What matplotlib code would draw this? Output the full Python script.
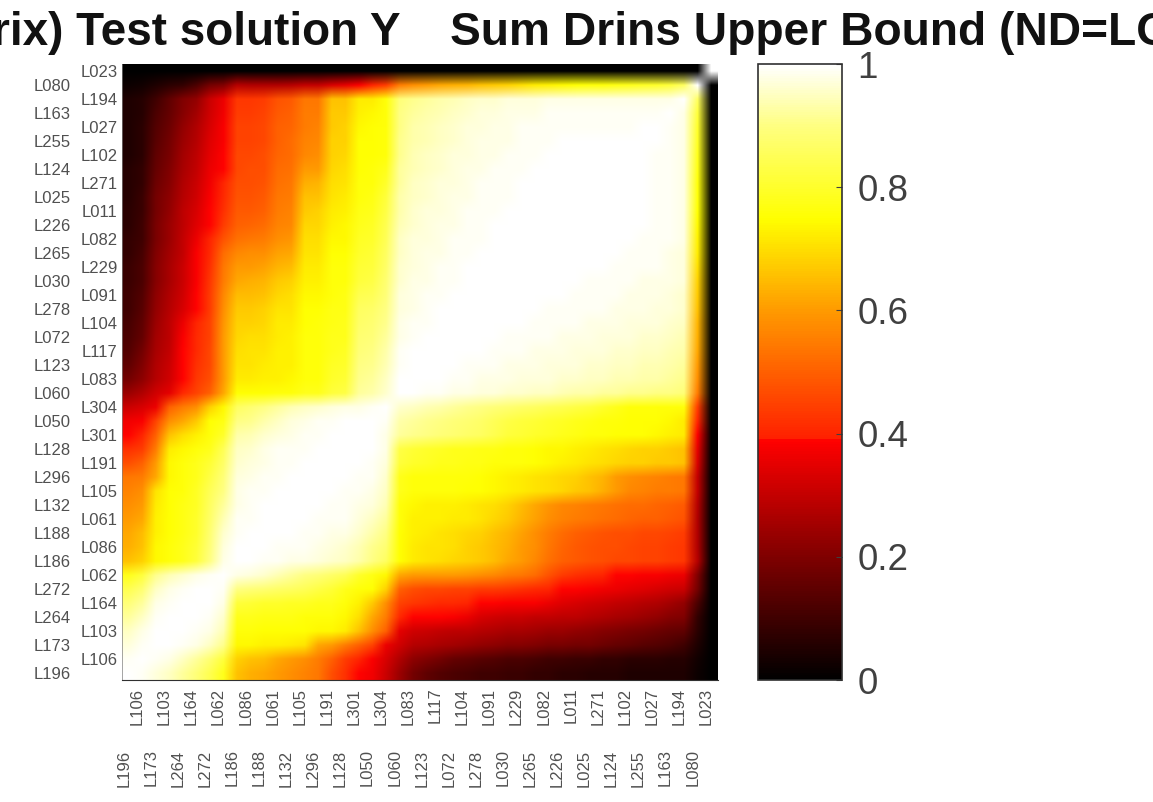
# -*- coding: utf-8 -*-
import numpy as np
import matplotlib
matplotlib.use('Agg')
import matplotlib.pyplot as plt
from matplotlib.colors import LinearSegmentedColormap
from matplotlib.transforms import ScaledTranslation

plt.rcParams['font.family'] = ['Liberation Sans', 'DejaVu Sans']

# order runs from the bottom row / left column upwards
names = ['L196', 'L106', 'L173', 'L103', 'L264', 'L164', 'L272', 'L062', 'L186', 'L086', 'L188',
         'L061', 'L132', 'L105', 'L296', 'L191', 'L128', 'L301', 'L050', 'L304', 'L060', 'L083',
         'L123', 'L117', 'L072', 'L104', 'L278', 'L091', 'L030', 'L229', 'L265', 'L082', 'L226',
         'L011', 'L025', 'L271', 'L124', 'L102', 'L255', 'L027', 'L163', 'L194', 'L080', 'L023']

# upper triangle, each row starts at the diagonal and stops at column L194
upper = [
    [1, .99, .97, .95, .92, .89, .84, .78, .66, .63, .62, .6, .58, .56, .54, .47, .42, .39, .37, .31,
     .24, .18, .15, .13, .12, .11, .10, .10, .09, .09, .08, .08, .07, .07, .06, .06, .06, .05, .05, .05, .05, .05],
    [1, .99, .98, .95, .92, .88, .82, .68, .66, .65, .62, .6, .58, .55, .5, .44, .4, .38, .33,
     .27, .22, .2, .18, .16, .15, .14, .13, .12, .12, .11, .1, .1, .09, .09, .08, .08, .07, .07, .07, .06, .06],
    [1, 1, .99, .98, .95, .91, .74, .74, .73, .73, .72, .71, .62, .6, .55, .5, .45, .36,
     .32, .28, .27, .26, .25, .24, .23, .22, .21, .21, .2, .19, .19, .18, .18, .17, .16, .15, .14, .13, .12, .1],
    [1, 1, .99, .98, .94, .76, .76, .75, .75, .75, .75, .74, .74, .72, .66, .58, .5,
     .35, .32, .31, .3, .29, .29, .28, .27, .26, .26, .25, .24, .24, .23, .22, .21, .2, .19, .18, .17, .16, .15],
    [1, 1, .99, .96, .78, .78, .77, .77, .77, .76, .76, .76, .74, .7, .62, .55,
     .41, .39, .39, .39, .38, .36, .33, .32, .31, .31, .3, .3, .29, .29, .28, .27, .26, .25, .24, .23, .21, .2],
    [1, 1, .98, .82, .81, .8, .8, .79, .79, .78, .78, .76, .73, .67, .58,
     .45, .43, .42, .41, .41, .4, .39, .39, .38, .38, .38, .36, .34, .33, .32, .31, .3, .29, .28, .27, .25, .23],
    [1, .99, .9, .89, .88, .87, .86, .85, .83, .81, .78, .76, .75, .68,
     .5, .47, .46, .46, .45, .45, .44, .44, .43, .42, .41, .4, .39, .39, .38, .37, .36, .35, .34, .33, .32, .31],
    [1, .98, .97, .96, .94, .92, .9, .89, .87, .85, .8, .77, .74,
     .62, .6, .6, .6, .6, .59, .58, .57, .55, .54, .52, .48, .44, .42, .41, .4, .39, .39, .38, .38, .37, .36],
    [1, 1, .99, .99, .98, .98, .97, .96, .95, .93, .9, .86,
     .75, .72, .71, .7, .69, .68, .67, .65, .62, .6, .57, .53, .5, .49, .48, .47, .46, .46, .45, .45, .44, .43],
    [1, 1, .99, .99, .99, .98, .97, .96, .94, .91, .88,
     .75, .72, .71, .71, .7, .68, .67, .65, .63, .6, .58, .54, .51, .49, .48, .47, .47, .46, .45, .45, .44, .43],
    [1, 1, 1, .99, .99, .98, .98, .96, .93, .9,
     .75, .73, .72, .71, .7, .69, .68, .66, .64, .61, .58, .55, .52, .5, .49, .48, .47, .47, .46, .46, .45, .44],
    [1, 1, 1, .99, .99, .99, .97, .95, .92,
     .76, .73, .73, .73, .72, .72, .71, .69, .67, .64, .61, .58, .56, .55, .54, .53, .52, .51, .5, .5, .49, .48],
    [1, 1, 1, .99, .99, .98, .97, .94,
     .76, .74, .73, .73, .73, .72, .71, .7, .68, .65, .62, .59, .57, .56, .55, .54, .53, .52, .52, .51, .5, .49],
    [1, 1, 1, .99, .99, .98, .95,
     .78, .76, .76, .76, .76, .75, .75, .74, .73, .72, .71, .7, .69, .67, .66, .63, .6, .57, .56, .55, .55, .54],
    [1, 1, 1, .99, .99, .96,
     .78, .76, .76, .76, .76, .76, .75, .74, .73, .72, .71, .7, .69, .68, .66, .64, .6, .58, .57, .56, .55, .54],
    [1, 1, 1, .99, .97,
     .82, .8, .79, .78, .78, .77, .77, .76, .76, .76, .75, .74, .73, .72, .71, .7, .69, .68, .68, .67, .67, .66],
    [1, 1, 1, .98,
     .83, .81, .8, .79, .78, .78, .77, .77, .76, .76, .75, .74, .74, .73, .72, .71, .7, .69, .68, .68, .67, .66],
    [1, 1, .98,
     .92, .91, .9, .89, .88, .87, .86, .84, .82, .81, .8, .79, .78, .77, .76, .76, .75, .75, .75, .74, .73, .72],
    [1, .99,
     .93, .92, .91, .9, .89, .88, .87, .85, .83, .82, .81, .8, .79, .78, .77, .76, .76, .75, .75, .75, .74, .72],
    [1,
     .96, .95, .94, .93, .92, .91, .9, .89, .88, .87, .86, .85, .84, .83, .82, .8, .78, .76, .76, .76, .76, .76],
    [1, 1, .99, .99, .98, .98, .97, .97, .96, .96, .95, .95, .94, .93, .93, .92, .92, .91, .91, .9, .9, .89],
    [1, 1, 1, .99, .99, .98, .98, .98, .97, .97, .97, .96, .96, .95, .95, .94, .94, .93, .93, .92, .91],
    [1, 1, 1, .99, .99, .99, .98, .98, .98, .97, .97, .97, .96, .96, .95, .95, .94, .94, .93, .92],
    [1, 1, 1, 1, .99, .99, .99, .98, .98, .98, .97, .97, .97, .96, .96, .95, .95, .94, .93],
    [1, 1, 1, 1, .99, .99, .99, .99, .98, .98, .98, .97, .97, .97, .96, .96, .95, .94],
    [1, 1, 1, 1, 1, .99, .99, .99, .99, .98, .98, .98, .97, .97, .97, .96, .95],
    [1, 1, 1, 1, 1, .99, .99, .99, .99, .99, .98, .98, .98, .97, .97, .96],
    [1, 1, 1, 1, 1, 1, .99, .99, .99, .99, .98, .98, .98, .97, .96],
    [1, 1, 1, 1, 1, 1, .99, .99, .99, .99, .98, .98, .98, .97],
    [1, 1, 1, 1, 1, 1, 1, .99, .99, .99, .99, .98, .97],
    [1, 1, 1, 1, 1, 1, 1, .99, .99, .99, .98, .97],
    [1, 1, 1, 1, 1, 1, 1, .99, .99, .99, .98],
    [1, 1, 1, 1, 1, 1, 1, .99, .99, .98],
    [1, 1, 1, 1, 1, 1, .99, .99, .98],
    [1, 1, 1, 1, 1, .99, .99, .98],
    [1, 1, 1, 1, .99, .99, .98],
    [1, 1, 1, .99, .99, .98],
    [1, 1, .99, .99, .98],
    [1, 1, .99, .98],
    [1, .99, .98],
    [1, .98],
    [1],
]
# the two last columns
col_L080 = [.02, .03, .05, .07, .08, .12, .18, .2, .28, .27, .27, .27, .28, .3, .3, .33, .35, .38, .4, .44,
            .55, .58, .6, .62, .63, .64, .66, .67, .68, .7, .72, .73, .74, .75, .76, .76, .77, .78, .79, .8, .82, .86, 1]
col_L023 = [0, 0, 0, 0, 0, 0, 0, 0, 0, 0, 0, 0, 0, 0, 0, 0, 0, 0, 0, 0, 0, 0,
            0, 0, 0, 0, 0, 0, 0, 0, 0, 0, 0, 0, 0, 0, 0, 0, 0, 0, 0, 0, 0, 1]

title_left = 'rix) Test solution Y'
title_right = 'Sum Drins Upper Bound (ND=LOD)'
cbar_ticks = [0, 0.2, 0.4, 0.6, 0.8, 1]
cbar_labels = ['0', '0.2', '0.4', '0.6', '0.8', '1']

n = len(names)
M = np.zeros((n, n))
for i, row in enumerate(upper):
    M[i, i:42] = row
M[:43, 42] = col_L080
M[:, 43] = col_L023
M = np.maximum(M, M.T)
M[43, :43] = col_L023[:43]
M[42, :43] = col_L080

# hot-like map with the small step just under 0.4
cmap = LinearSegmentedColormap.from_list('hot2', [(0, '#000000'), (0.2, '#800000'), (0.388, '#ff0000'),
                                                  (0.392, '#ff2000'), (0.6, '#ff9a00'), (0.75, '#ffff00'),
                                                  (0.9, '#ffff80'), (1, '#ffffff')], N=256)

W, H = 1153, 802
fig = plt.figure(figsize=(W / 100, H / 100), dpi=100, facecolor='white')
ax = fig.add_axes([122 / W, 1 - 680 / H, 596 / W, 616 / H])
im = ax.imshow(M, cmap=cmap, vmin=0, vmax=1, origin='lower', aspect='auto',
               interpolation='bilinear', interpolation_stage='rgba')

ax.set_xticks(range(n))
ax.set_xticklabels(names, rotation=90, fontsize=12, color='#505050')
ax.set_yticks(range(n))
ax.set_yticklabels(names, fontsize=12, color='#505050')
ax.tick_params(length=0)

# staggered labels
shift = ScaledTranslation(-0.05, 0, fig.dpi_scale_trans)
for i, t in enumerate(ax.xaxis.get_major_ticks()):
    t.set_pad(5.5 if i % 2 == 1 else 50)
    t.label1.set_transform(t.label1.get_transform() + shift)
for i, t in enumerate(ax.yaxis.get_major_ticks()):
    t.set_pad(3 if i % 2 == 1 else 37)

for s in ['top', 'right']:
    ax.spines[s].set_visible(False)
ax.spines['bottom'].set_color('#303030')
ax.spines['left'].set_color('#808080')
ax.spines['left'].set_linewidth(0.5)

cax = fig.add_axes([758 / W, 1 - 680 / H, 84 / W, 616 / H])
cb = fig.colorbar(im, cax=cax)
cb.set_ticks(cbar_ticks)
cb.set_ticklabels(cbar_labels)
cb.ax.tick_params(direction='in', length=4, width=0.8, color='#404040', labelsize=26.5,
                  labelcolor='#404040', pad=11)
cb.outline.set_edgecolor('#303030')
cb.outline.set_linewidth(1.2)

fig.text(-7.6 / W, 1 - 45 / H, title_left, fontsize=33, fontweight='bold', color='#111111',
         ha='left', va='baseline')
fig.text(450 / W, 1 - 45 / H, title_right, fontsize=33.2, fontweight='bold', color='#111111',
         ha='left', va='baseline')

fig.savefig('out.png', dpi=100, facecolor='white')
plt.close(fig)
